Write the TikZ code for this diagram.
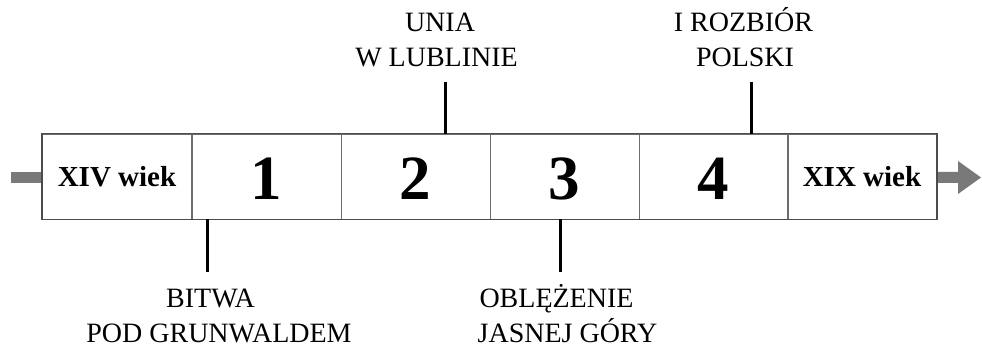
\documentclass[tikz,border=0pt]{standalone}
\usepackage{fontspec}
\setmainfont{Liberation Serif}
\begin{document}
\begin{tikzpicture}[x=1pt,y=-1pt,
  cell/.style={draw=gray!85!black,line width=0.9pt,minimum width=149pt,minimum height=85pt,inner sep=0pt,anchor=center},
  small/.style={font=\fontsize{29}{35}\selectfont\bfseries},
  big/.style={font=\fontsize{63}{70}\selectfont\bfseries},
  lab/.style={font=\fontsize{28}{35}\selectfont,inner sep=0pt,anchor=base},
  tick/.style={line width=3pt,black},
  arr/.style={fill=gray!95!black,draw=none}]
\useasboundingbox (0,0) rectangle (982,347);
% arrow stubs
\fill[arr] (11,172) rectangle (42.5,183);
\fill[arr] (936,172) -- (958,172) -- (958,161) -- (981,177.5) -- (958,194) -- (958,183) -- (936,183) -- cycle;
% cells
\node[cell] (c0) at (117,176.5) {};
\node[cell] (c1) at (266.5,176.5) {};
\node[cell] (c2) at (415.5,176.5) {};
\node[cell] (c3) at (564.5,176.5) {};
\node[cell] (c4) at (713.5,176.5) {};
\node[cell] (c5) at (862,176.5) {};
\draw[draw=black!70,line width=1.4pt] (c0.north west) rectangle (c5.south east);
% cell texts
\node[small,anchor=base,inner sep=0pt] (t0) at (117,187) {XIV wiek};
\node[big,anchor=base,inner sep=0pt] (t1) at (266.5,200) {1};
\node[big,anchor=base,inner sep=0pt] (t2) at (415.5,200) {2};
\node[big,anchor=base,inner sep=0pt] (t3) at (564.5,200) {3};
\node[big,anchor=base,inner sep=0pt] (t4) at (713.5,200) {4};
\node[small,anchor=base,inner sep=0pt] (t5) at (862,187) {XIX wiek};
% tick end coordinates
\coordinate (kb) at (207,272);
\coordinate (ko) at (560,272);
\coordinate (ku) at (445,82);
\coordinate (kr) at (751,82);
\draw[tick] (c0.south east -| kb) -- (kb);
\draw[tick] (c3.south -| ko) -- (ko);
\draw[tick] (c2.north -| ku) -- (ku);
\draw[tick] (c4.north -| kr) -- (kr);
% labels
\node[lab] (u1) at (440,32) {UNIA};
\node[lab] (u2) at (436.5,67) {W LUBLINIE};
\node[lab] (r1) at (743.5,32) {I ROZBIÓR};
\node[lab] (r2) at (745,67) {POLSKI};
\node[lab] (b1) at (210.5,307) {BITWA};
\node[lab] (b2) at (219,342) {POD GRUNWALDEM};
\node[lab] (o1) at (556.5,307) {OBLĘŻENIE};
\node[lab] (o2) at (567.5,342) {JASNEJ GÓRY};
\end{tikzpicture}
\end{document}
